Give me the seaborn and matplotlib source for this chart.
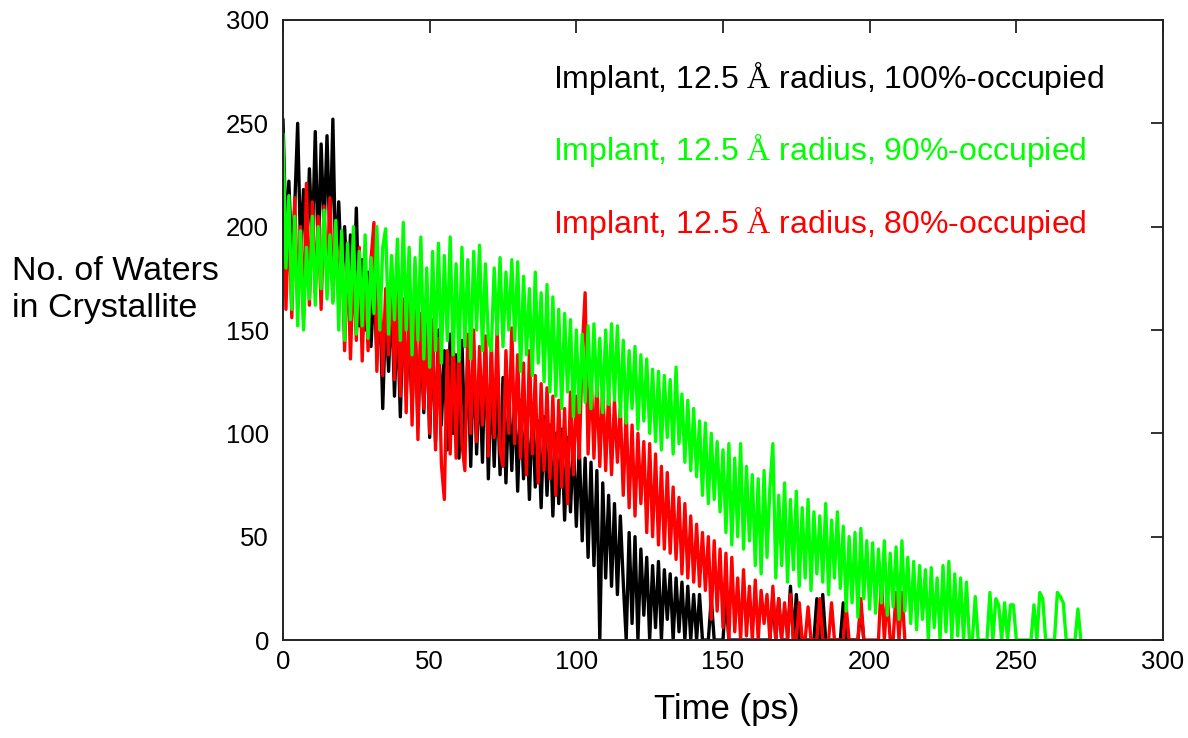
import numpy as np
import pandas as pd
import matplotlib
matplotlib.use("Agg")
import matplotlib.pyplot as plt
import seaborn as sns

# ---- data (1 ps sampling) ----
black_100 = [252,195,222,183,210,250,188,218,182,228,192,246,186,240,198,244,192,252,178,212,
             176,200,165,196,160,209,152,184,150,178,142,172,138,166,112,160,130,168,118,158,
             108,162,120,150,112,155,104,148,110,156,98,146,96,150,104,140,92,148,100,138,
             88,145,95,136,84,140,90,130,86,147,78,128,84,126,80,127,76,120,82,118,
             72,116,78,112,68,114,74,106,64,108,70,104,60,100,66,102,58,98,62,96,
             55,94,48,88,40,86,36,82,0,76,30,70,26,66,22,60,28,0,52,8,
             50,0,44,12,40,0,36,6,38,0,34,10,32,0,30,4,28,0,26,0,
             22,0,22,0,0,0,20,0,0,0,0,22,0,0,0,0,0,0,0,0,
             0,0,0,0,0,0,0,22,0,20,0,0,0,26,0,22,0,0,0,0,
             0,0,20,0,22,0,0,0,0,0,0,18,0,0,0,0,0,16,0]
green_90 = [245,180,215,160,205,152,198,150,190,165,205,162,200,170,208,165,196,163,203,150,
            198,145,192,155,200,148,188,152,196,146,185,158,200,150,190,199,148,186,155,194,
            145,202,150,190,138,185,145,195,136,180,132,188,140,192,134,186,145,195,138,182,
            135,190,142,184,136,188,150,191,140,182,145,140,180,148,185,142,178,150,184,145,
            183,130,176,138,170,128,178,134,168,125,172,120,166,118,160,112,158,120,155,108,
            150,110,148,115,152,112,153,118,146,110,150,114,153,116,152,108,145,105,140,112,
            142,102,138,106,136,100,131,96,130,92,128,98,126,90,132,95,119,86,116,82,
            112,79,106,70,105,66,100,68,96,62,92,52,95,46,88,50,95,44,84,48,
            80,36,78,32,82,40,74,95,30,70,36,76,28,68,34,72,26,64,30,68,
            24,62,32,60,28,66,22,58,30,62,25,55,14,50,18,52,11,54,20,48,
            15,47,13,44,18,48,12,42,16,45,10,48,14,40,8,38,5,36,10,34,
            0,35,6,30,0,36,4,38,0,32,2,30,0,28,0,0,21,0,0,0,
            0,23,0,20,17,0,18,0,17,17,0,0,0,0,0,0,17,0,23,20,
            0,0,0,0,23,21,18,0,0,0,0,15,0]
red_80 = [240,160,208,156,214,165,200,155,221,162,212,168,205,160,210,172,214,164,200,166,
          196,140,188,136,182,145,190,135,178,140,184,202,130,175,128,170,138,180,126,168,
          118,165,110,170,104,160,97,158,112,150,100,155,92,146,85,68,140,90,150,88,
          144,95,82,148,100,150,96,142,104,147,89,145,98,151,92,84,140,100,151,95,
          138,88,134,80,140,90,128,76,124,82,122,78,118,70,116,74,112,66,120,80,
          118,88,140,168,90,131,88,126,84,124,82,120,80,116,86,112,70,111,64,104,
          60,100,66,96,52,95,50,90,46,84,44,81,42,74,39,69,32,66,30,60,
          28,56,26,52,24,50,10,48,14,44,6,42,0,40,4,30,0,34,2,26,
          0,29,0,24,8,22,0,26,0,20,0,18,0,22,0,0,18,0,0,16,
          0,0,0,20,0,0,0,18,0,0,0,0,16,0,0,0,0,20,0,0,
          0,0,0,0,30,0,22,0,0,23,0,23,0]

black_t = np.arange(len(black_100))
green_t = np.arange(len(green_90))
red_t = np.arange(len(red_80))

x_ticks = [0, 50, 100, 150, 200, 250, 300]
y_ticks = [0, 50, 100, 150, 200, 250, 300]
legend_labels = ["Implant, 12.5 $\\mathrm{Å}$ radius, 100%-occupied",
                 "Implant, 12.5 $\\mathrm{Å}$ radius, 90%-occupied",
                 "Implant, 12.5 $\\mathrm{Å}$ radius, 80%-occupied"]
colors = ["#000000", "#00ff00", "#ff0000"]

# ---- style ----
sns.set_theme(style="white")
plt.rcParams["font.family"] = ["Liberation Sans", "DejaVu Sans"]
plt.rcParams["mathtext.fontset"] = "custom"
plt.rcParams["mathtext.rm"] = "Liberation Serif"

fig = plt.figure(figsize=(11.88, 7.38), dpi=100)
ax = fig.add_axes([283/1188, 1 - 640/738, 880/1188, 620/738])

lw = 2.4
sns.lineplot(x=black_t, y=black_100, color=colors[0], lw=lw, ax=ax,
             estimator=None, sort=False)
sns.lineplot(x=red_t, y=red_80, color=colors[2], lw=lw, ax=ax,
             estimator=None, sort=False)
sns.lineplot(x=green_t, y=green_90, color=colors[1], lw=lw, ax=ax,
             estimator=None, sort=False)

ax.set_xlim(0, 300)
ax.set_ylim(0, 300)
ax.set_xticks(x_ticks)
ax.set_yticks(y_ticks)
ax.set_xticklabels([str(v) for v in x_ticks])
ax.set_yticklabels([str(v) for v in y_ticks])
ax.tick_params(direction="in", top=True, right=True, length=9, width=1.3,
               color="#222222", labelsize=18.5, labelcolor="black")
ax.tick_params(axis="y", pad=10)
ax.tick_params(axis="x", pad=7)
for s in ax.spines.values():
    s.set_visible(True)
    s.set_color("#222222")
    s.set_linewidth(1.4)

ax.set_xlabel("Time (ps)", fontsize=25, color="black", labelpad=13)
ax.xaxis.set_label_coords(0.5045, -0.085)
ax.set_ylabel("No. of Waters\nin Crystallite", fontsize=24.5, color="black",
              rotation=0, ha="left", va="center", multialignment="left",
              linespacing=1.25)
ax.yaxis.set_label_coords(-0.308, 0.565)

# key texts (gnuplot style, no line samples)
for lab, col, yb in zip(legend_labels, colors, [0.8903, 0.7742, 0.6565]):
    ax.text(0.307, yb, lab, transform=ax.transAxes, color=col, fontsize=23,
            ha="left", va="baseline")
fig.savefig("out.png", dpi=100)
